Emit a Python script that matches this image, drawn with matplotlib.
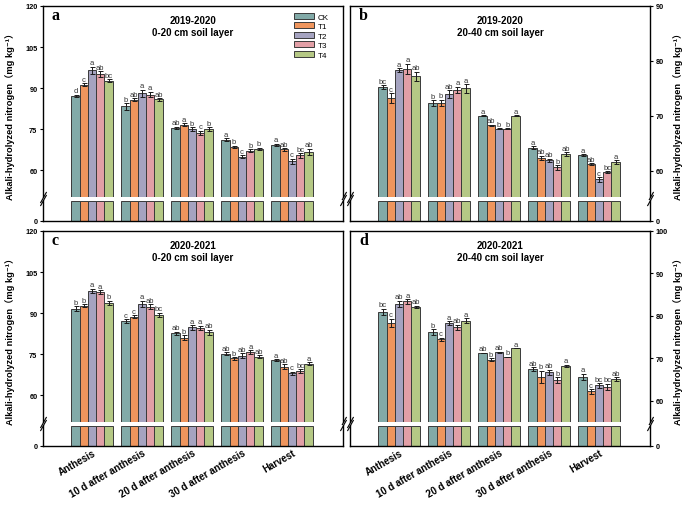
import matplotlib.pyplot as plt
import numpy as np

plt.rcParams['font.family'] = ['Liberation Sans', 'DejaVu Sans', 'Noto Sans CJK SC']

stages = ['Anthesis', '10 d after anthesis', '20 d after anthesis',
          '30 d after anthesis', 'Harvest']
treatments = ['CK', 'T1', 'T2', 'T3', 'T4']
colors = ['#82aaa8', '#ef955d', '#a5a3c0', '#e29fa6', '#b5c885']

# rows = growth stage, columns = CK, T1, T2, T3, T4
a_mean = [[87.2, 91.3, 96.5, 95.2, 92.8],
          [83.4, 85.8, 88.2, 87.7, 85.9],
          [75.5, 76.7, 75.1, 73.8, 75.0],
          [71.2, 68.5, 65.0, 67.2, 67.9],
          [69.4, 67.7, 63.3, 65.5, 66.7]]
a_err = [[0.5, 0.5, 1.3, 1.0, 0.5],
         [1.2, 0.6, 1.3, 1.0, 0.4],
         [0.4, 0.5, 0.6, 0.7, 0.7],
         [0.6, 0.5, 0.5, 0.5, 0.4],
         [0.4, 0.5, 1.0, 0.8, 1.2]]
a_sig = [['d', 'c', 'a', 'ab', 'bc'],
         ['b', 'ab', 'a', 'a', 'ab'],
         ['ab', 'a', 'b', 'c', 'b'],
         ['a', 'b', 'c', 'b', 'b'],
         ['a', 'ab', 'c', 'bc', 'ab']]

b_mean = [[75.2, 73.2, 78.3, 78.6, 77.2],
          [72.3, 72.3, 74.0, 74.7, 75.0],
          [70.0, 68.3, 67.6, 67.6, 70.0],
          [64.2, 62.3, 61.9, 60.6, 63.0],
          [62.8, 61.2, 58.4, 59.7, 61.6]]
b_err = [[0.4, 0.9, 0.4, 0.9, 0.8],
         [0.5, 0.6, 0.7, 0.6, 0.8],
         [0.05, 0.1, 0.1, 0.1, 0.05],
         [0.3, 0.4, 0.3, 0.4, 0.4],
         [0.2, 0.2, 0.4, 0.2, 0.3]]
b_sig = [['bc', 'c', 'a', 'a', 'ab'],
         ['b', 'b', 'ab', 'a', 'a'],
         ['a', 'ab', 'b', 'b', 'a'],
         ['a', 'ab', 'ab', 'b', 'ab'],
         ['a', 'ab', 'c', 'bc', 'a']]

c_mean = [[91.6, 92.7, 98.2, 97.8, 93.8],
          [87.2, 88.7, 93.5, 92.3, 89.4],
          [82.6, 81.0, 84.8, 84.6, 83.0],
          [75.2, 73.5, 74.5, 75.9, 74.1],
          [72.8, 70.5, 68.0, 68.9, 71.6]]
c_err = [[0.9, 0.5, 0.8, 0.7, 0.7],
         [0.6, 0.6, 1.1, 0.9, 0.8],
         [0.7, 0.9, 0.8, 0.8, 1.0],
         [0.6, 0.4, 0.8, 0.7, 0.5],
         [0.4, 0.8, 0.6, 0.6, 0.6]]
c_sig = [['b', 'b', 'a', 'a', 'b'],
         ['c', 'c', 'a', 'ab', 'bc'],
         ['ab', 'b', 'a', 'a', 'ab'],
         ['ab', 'b', 'ab', 'a', 'ab'],
         ['a', 'ab', 'c', 'bc', 'a']]

d_mean = [[81.0, 78.3, 82.9, 83.4, 82.1],
          [76.2, 74.5, 78.3, 77.3, 78.9],
          [71.3, 69.7, 71.4, 70.3, 72.4],
          [67.5, 65.7, 66.7, 64.9, 68.2],
          [65.7, 62.2, 63.6, 63.3, 65.1]]
d_err = [[0.7, 1.0, 0.7, 0.5, 0.3],
         [0.6, 0.4, 0.5, 0.6, 0.5],
         [0.05, 0.3, 0.2, 0.1, 0.05],
         [0.4, 1.4, 0.6, 0.7, 0.3],
         [0.7, 0.5, 0.5, 0.7, 0.4]]
d_sig = [['bc', 'c', 'ab', 'a', 'ab'],
         ['b', 'c', 'a', 'ab', 'a'],
         ['ab', 'b', 'ab', 'b', 'a'],
         ['ab', 'b', 'ab', 'b', 'a'],
         ['a', 'c', 'bc', 'bc', 'ab']]

ylabel = 'Alkali-hydrolyzed nitrogen（mg kg⁻¹）'

fig = plt.figure(figsize=(6.85, 5.06), dpi=100)

W, H = 685.0, 506.0
low_top = 10


def draw_panel(x0, top, mean, err, sig, ylim, yticks, letter, year, layer,
               right=False, xlabels=False, legend=False):
    mean = np.array(mean)
    err = np.array(err)
    w = 300 / W
    ax_hi = fig.add_axes([x0 / W, 1 - (top + 191) / H, w, 191 / H])
    ax_lo = fig.add_axes([x0 / W, 1 - (top + 215) / H, w, 21 / H])
    x = np.arange(len(stages))
    bw = 0.165
    for j, t in enumerate(treatments):
        xs = x + (j - 2) * bw
        ax_hi.bar(xs, mean[:, j], bw, color=colors[j], edgecolor='#3a3a3a',
                  linewidth=0.7, label=t)
        ax_hi.errorbar(xs, mean[:, j], yerr=err[:, j], fmt='none',
                       ecolor='#1a1a1a', elinewidth=0.7, capsize=1.8,
                       capthick=0.7)
        for k in range(len(stages)):
            ax_hi.annotate(sig[k][j], (xs[k], mean[k, j] + err[k, j]),
                           xytext=(0, 0.3), textcoords='offset points',
                           ha='center', va='bottom', fontsize=5.5,
                           color='#333333')
        ax_lo.bar(xs, np.minimum(mean[:, j], low_top), bw, color=colors[j],
                  edgecolor='#3a3a3a', linewidth=0.7)

    for ax in (ax_hi, ax_lo):
        ax.set_xlim(-0.98, 5.02)
        for s in ax.spines.values():
            s.set_linewidth(1.0)
        ax.tick_params(axis='y', direction='out', length=2.5, width=0.8,
                       labelsize=5.3, pad=1.5)
        if right:
            ax.yaxis.tick_right()
    ax_hi.set_ylim(*ylim)
    ax_hi.set_yticks(yticks)
    ax_lo.set_ylim(0, low_top * 1.05)
    ax_lo.set_yticks([0])
    for ax in (ax_hi, ax_lo):
        for lab in ax.get_yticklabels():
            lab.set_fontweight('bold')
    ax_hi.spines['bottom'].set_visible(False)
    ax_lo.spines['top'].set_visible(False)
    ax_hi.set_xticks([])
    ax_lo.set_xticks(x)
    ax_lo.tick_params(axis='x', length=0, pad=1)
    if xlabels:
        ax_lo.set_xticklabels(stages, rotation=30, ha='right',
                              rotation_mode='anchor', fontsize=7,
                              fontweight='bold')
    else:
        ax_lo.set_xticklabels([])

    # break marks
    kw = dict(marker=[(-1, -1.8), (1, 1.8)], markersize=8, linestyle='none',
              color='k', mec='k', mew=0.8, clip_on=False)
    ax_hi.plot([0, 1], [0, 0], transform=ax_hi.transAxes, **kw)
    ax_lo.plot([0, 1], [1, 1], transform=ax_lo.transAxes, **kw)

    ax_hi.text(0.03, 0.955, letter, transform=ax_hi.transAxes,
               family='Liberation Serif', fontweight='bold', fontsize=11.5,
               ha='left', va='center')
    ax_hi.text(0.5, 0.928, year, transform=ax_hi.transAxes, ha='center',
               va='center', fontsize=7, fontweight='bold')
    ax_hi.text(0.5, 0.864, layer, transform=ax_hi.transAxes, ha='center',
               va='center', fontsize=7, fontweight='bold')

    if legend:
        ax_hi.legend(loc='upper left', bbox_to_anchor=(0.835, 0.965),
                     frameon=False, fontsize=5.8, handlelength=2.5,
                     handleheight=0.8, labelspacing=0.2, handletextpad=0.5,
                     borderpad=0, borderaxespad=0)

    cy = 1 - (top + 107) / H
    if right:
        fig.text(0.990, cy, ylabel, rotation=90, ha='center', va='center',
                 fontsize=6.7, fontweight='bold')
    else:
        fig.text(0.0146, cy, ylabel, rotation=90, ha='center', va='center',
                 fontsize=6.7, fontweight='bold')


draw_panel(43, 7, a_mean, a_err, a_sig, (50.3, 120), [60, 75, 90, 105, 120],
           'a', '2019-2020', '0-20 cm soil layer', legend=True)
draw_panel(350, 7, b_mean, b_err, b_sig, (55.2, 90), [60, 70, 80, 90],
           'b', '2019-2020', '20-40 cm soil layer', right=True)
draw_panel(43, 232, c_mean, c_err, c_sig, (50.3, 120), [60, 75, 90, 105, 120],
           'c', '2020-2021', '0-20 cm soil layer', xlabels=True)
draw_panel(350, 232, d_mean, d_err, d_sig, (55.0, 100), [60, 70, 80, 90, 100],
           'd', '2020-2021', '20-40 cm soil layer', right=True, xlabels=True)

fig.savefig('out.png', dpi=100)
